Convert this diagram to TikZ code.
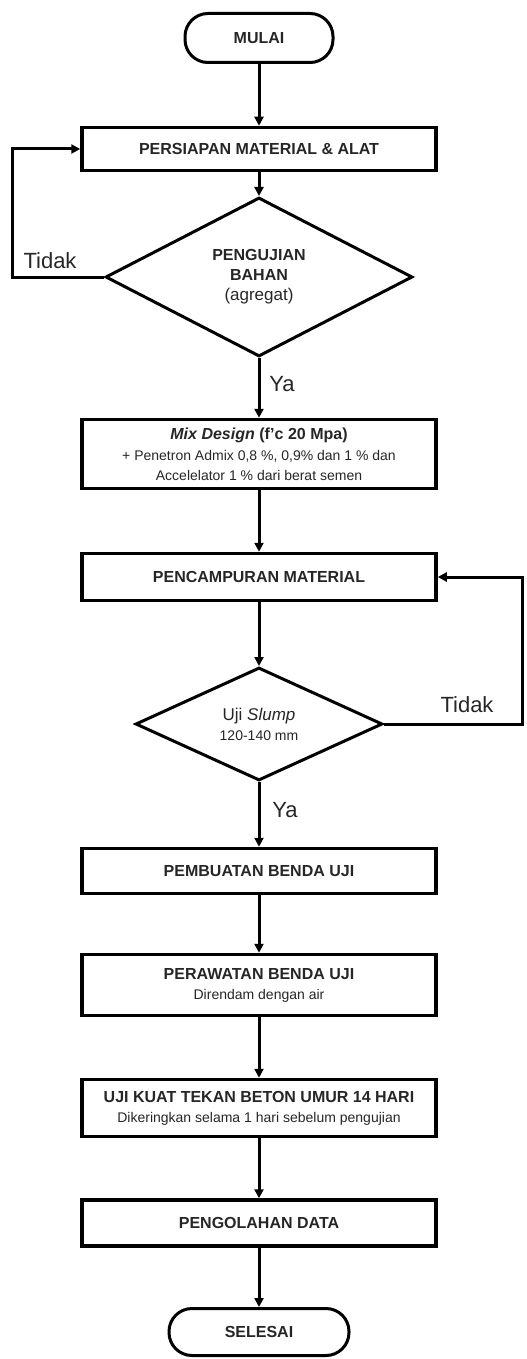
\documentclass[tikz,border=0pt]{standalone}
\usepackage{fontspec}
\setmainfont{Liberation Sans}
\usetikzlibrary{shapes.geometric,arrows.meta}
\definecolor{txt}{HTML}{262626}
\newcommand\subf{\fontsize{14}{18}\selectfont\mdseries}
\newcommand\midf{\fontsize{17}{20}\selectfont\mdseries}
\tikzset{
  titlefont/.style={font=\fontsize{16}{20}\selectfont\bfseries},
  proc/.style={draw, line width=3.5pt, minimum width=354pt, inner sep=0pt, align=center, text=txt, titlefont},
  term/.style={draw, line width=3pt, rounded corners=23pt, inner sep=0pt, text=txt, titlefont},
  dec/.style={draw, diamond, line width=3pt, inner sep=0pt, align=center, text=txt, titlefont},
  conn/.style={line width=3pt, -{Triangle[length=9pt,width=9pt]}},
  lbl/.style={text=txt, font=\fontsize{22}{26}\selectfont, inner sep=0pt},
}
\begin{document}
\begin{tikzpicture}[x=1pt,y=-1pt]
\useasboundingbox (0,0) rectangle (527,1359);
\node[term, minimum width=148pt, minimum height=49pt] (start) at (259,38) {MULAI};
\node[proc, minimum height=43pt] (prep) at (259,149) {PERSIAPAN MATERIAL \& ALAT};
\node[dec, minimum width=307pt, minimum height=159pt] (test1) at (259,277) {PENGUJIAN\\BAHAN\\{\midf (agregat)}};
\node[proc, minimum height=69pt] (mix) at (259,454) {\textit{Mix Design} (f’c 20 Mpa)\\[1pt]{\subf + Penetron Admix 0,8 \%, 0,9\% dan 1 \% dan}\\{\subf Accelelator 1 \% dari berat semen}};
\node[proc, minimum height=47pt] (mixing) at (259,577) {PENCAMPURAN MATERIAL};
\node[dec, minimum width=247pt, minimum height=113pt] (slump) at (259,724) {{\midf Uji \textit{Slump}}\\{\subf 120-140 mm}};
\node[proc, minimum height=45pt] (make) at (259,871) {PEMBUATAN BENDA UJI};
\node[proc, minimum height=61pt] (cure) at (259,985) {PERAWATAN BENDA UJI\\{\subf Direndam dengan air}};
\node[proc, minimum height=57pt] (press) at (259,1108) {UJI KUAT TEKAN BETON UMUR 14 HARI\\{\subf Dikeringkan selama 1 hari sebelum pengujian}};
\node[proc, minimum height=46pt] (data) at (259,1223) {PENGOLAHAN DATA};
\node[term, minimum width=180pt, minimum height=47pt] (finish) at (259,1332) {SELESAI};

\node[lbl] (no1) at (50,261) {Tidak};
\node[lbl] (yes1) at (282,384) {Ya};
\node[lbl] (no2) at (467,705) {Tidak};
\node[lbl] (yes2) at (285,810) {Ya};

\coordinate (lx) at (12,277);
\coordinate (rx) at (522,724);

\draw[conn] (start) -- (prep);
\draw[conn] (prep) -- (test1);
\draw[conn] (test1) -- (mix);
\draw[conn] (mix) -- (mixing);
\draw[conn] (mixing) -- (slump);
\draw[conn] (slump) -- (make);
\draw[conn] (make) -- (cure);
\draw[conn] (cure) -- (press);
\draw[conn] (press) -- (data);
\draw[conn] (data) -- (finish);
\draw[conn] (test1.west) -- (lx) |- (prep.west);
\draw[conn] (slump.east) -- (rx) |- (mixing.east);
\end{tikzpicture}
\end{document}
